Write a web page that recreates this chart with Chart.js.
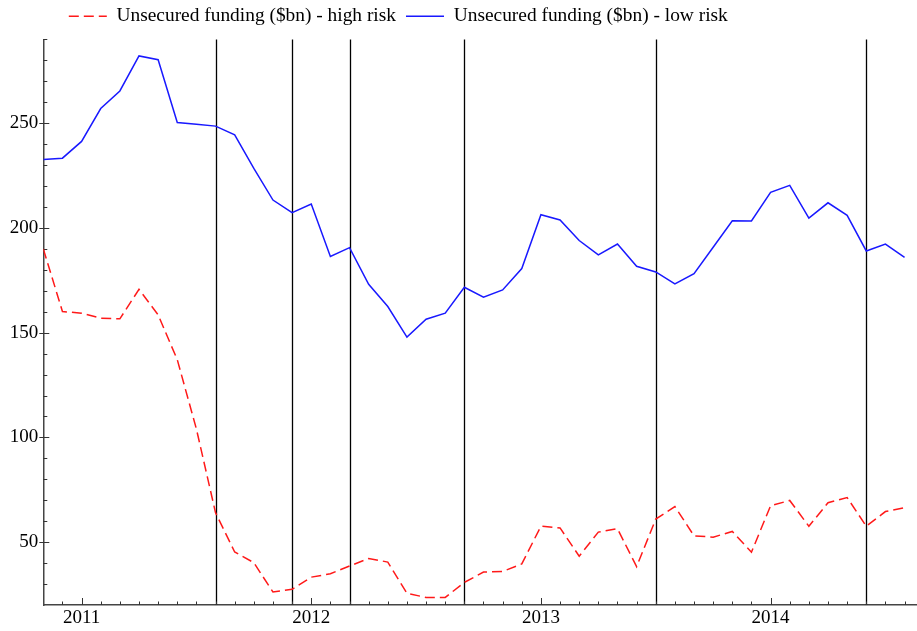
<!DOCTYPE html>
<html>
<head>
<meta charset="utf-8">
<script src="https://cdn.jsdelivr.net/npm/chart.js@4"></script>
<style>
  html, body { margin: 0; padding: 0; background: #fff; }
  #wrap { width: 917px; height: 631px; }
</style>
</head>
<body>
<div id="wrap"><canvas id="fundingChart"></canvas></div>
<script>
// monthly observations, Nov 2010 .. Aug 2014
var monthNames = ["Jan","Feb","Mar","Apr","May","Jun","Jul","Aug","Sep","Oct","Nov","Dec"];
var months = [];
for (var k = 0; k < 46; k++) {
    var m = (10 + k) % 12;
    var yr = 2010 + Math.floor((10 + k) / 12);
    months.push(monthNames[m] + " " + yr);
}

var highRisk = [190.0, 160.1, 159.3, 156.9, 156.6, 170.7, 158.5, 137.1, 104.0, 64.0,
    45.3, 40.2, 26.2, 27.5, 33.3, 34.9, 38.6, 42.2, 40.5, 25.6,
    23.6, 23.6, 30.8, 35.7, 36.0, 39.6, 57.6, 56.8, 43.3, 54.8,
    56.4, 38.3, 61.0, 67.0, 53.0, 52.4, 55.1, 45.2, 67.4, 69.9,
    57.6, 68.8, 71.3, 57.6, 64.6, 66.5];

var lowRisk = [232.7, 233.3, 241.3, 257.0, 265.4, 282.1, 280.3, 250.3, 249.5, 248.6,
    244.4, 228.4, 213.3, 207.3, 211.4, 186.4, 190.6, 173.1, 162.5, 147.9,
    156.4, 159.3, 171.7, 166.9, 170.4, 180.6, 206.3, 203.8, 194.0, 187.1,
    192.3, 181.7, 179.0, 173.3, 178.2, 190.8, 203.4, 203.3, 217.0, 220.3,
    204.7, 212.0, 206.0, 189.0, 192.3, 186.0];

var yearLabels = ["2011", "2012", "2013", "2014"];
var yTickValues = [50, 100, 150, 200, 250];
var eventMonths = ["Aug 2011", "Dec 2011", "Mar 2012", "Sep 2012", "Jul 2013", "Jun 2014"];

function toPoints(values) {
    return values.map(function (v, i) { return { x: i, y: v }; });
}

Chart.defaults.font.family = "'Liberation Serif', 'DejaVu Serif', serif";
Chart.defaults.font.size = 19;
Chart.defaults.color = "#000";

// event lines, axis ticks and legend placement
var decorations = {
    id: "decorations",
    afterLayout: function (chart) {
        chart.legend.left += 54;
        chart.legend.top -= 3.5;
    },
    beforeDatasetsDraw: function (chart) {
        var ctx = chart.ctx, area = chart.chartArea;
        var x = chart.scales.x, y = chart.scales.y;
        ctx.save();
        ctx.strokeStyle = "#000";
        ctx.lineWidth = 1.3;
        eventMonths.forEach(function (m) {
            var px = Math.round(x.getPixelForValue(months.indexOf(m))) + 0.5;
            ctx.beginPath();
            ctx.moveTo(px, area.top);
            ctx.lineTo(px, area.bottom);
            ctx.stroke();
        });

        ctx.strokeStyle = "#333";
        ctx.lineWidth = 1;
        // y ticks every 10, major every 50
        for (var v = 30; v <= 290; v += 10) {
            var py = Math.round(y.getPixelForValue(v)) + 0.5;
            var major = v % 50 === 0;
            ctx.beginPath();
            ctx.moveTo(area.left - (major ? 4 : 0), py);
            ctx.lineTo(area.left + (major ? 6 : 4), py);
            ctx.stroke();
        }
        // x ticks every month, major at January
        for (var i = 1; i < months.length; i++) {
            var px2 = Math.round(x.getPixelForValue(i)) + 0.5;
            var isJan = months[i].indexOf("Jan") === 0;
            ctx.beginPath();
            ctx.moveTo(px2, area.bottom);
            ctx.lineTo(px2, area.bottom - (isJan ? 7 : 3.5));
            ctx.stroke();
        }
        ctx.restore();
    }
};

var ctx = document.getElementById("fundingChart").getContext("2d");
new Chart(ctx, {
    type: "line",
    data: {
        datasets: [
            {
                label: "Unsecured funding ($bn) - high risk",
                data: toPoints(highRisk),
                borderColor: "rgb(255, 25, 25)",
                backgroundColor: "rgb(255, 25, 25)",
                borderWidth: 1.5,
                borderDash: [10, 5],
                pointRadius: 0,
                tension: 0,
            },
            {
                label: "Unsecured funding ($bn) - low risk",
                data: toPoints(lowRisk),
                borderColor: "rgb(25, 25, 255)",
                backgroundColor: "rgb(25, 25, 255)",
                borderWidth: 1.5,
                pointRadius: 0,
                tension: 0,
            },
        ],
    },
    options: {
        responsive: true,
        maintainAspectRatio: false,
        animation: false,
        layout: { padding: { left: 4.8, right: 0, top: 0, bottom: 0 } },
        plugins: {
            tooltip: { enabled: false },
            legend: {
                align: "start",
                labels: {
                    font: { size: 19.4 },
                    usePointStyle: true,
                    pointStyle: "line",
                    pointStyleWidth: 38,
                    padding: 10,
                    generateLabels: function (chart) {
                        var items = Chart.defaults.plugins.legend.labels.generateLabels(chart);
                        items.forEach(function (it, i) {
                            var ds = chart.data.datasets[i];
                            it.lineDash = ds.borderDash || [];
                            it.strokeStyle = ds.borderColor;
                            it.lineWidth = 1.5;
                        });
                        return items;
                    },
                },
            },
        },
        scales: {
            x: {
                type: "linear",
                min: 0,
                max: 45.65,
                grid: { display: true, drawOnChartArea: false, drawTicks: false },
                border: { display: true, color: "#444", width: 1.5 },
                afterBuildTicks: function (scale) {
                    scale.ticks = yearLabels.map(function (y) {
                        return { value: months.indexOf("Jan " + y) };
                    });
                },
                ticks: {
                    padding: 1.6,
                    autoSkip: false,
                    maxRotation: 0,
                    callback: function (value) {
                        return months[value].split(" ")[1];
                    },
                },
            },
            y: {
                min: 20,
                max: 290,
                grid: { display: true, drawOnChartArea: false, drawTicks: false },
                border: { display: true, color: "#444", width: 1.5 },
                afterBuildTicks: function (scale) {
                    scale.ticks = yTickValues.map(function (v) { return { value: v }; });
                },
                ticks: { padding: 5 },
            },
        },
    },
    plugins: [decorations],
});
</script>
</body>
</html>
